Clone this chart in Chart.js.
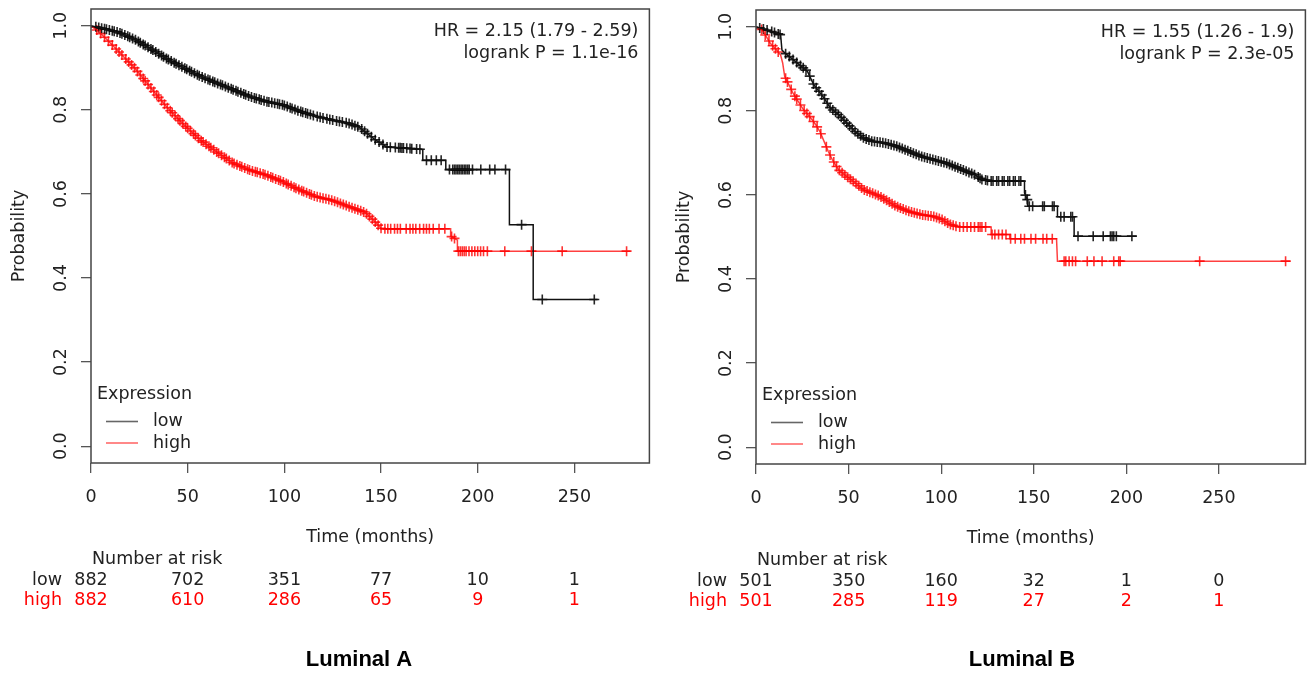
<!DOCTYPE html>
<html>
<head>
<meta charset="utf-8">
<title>Kaplan-Meier curves: Luminal A / Luminal B</title>
<script src="https://cdn.jsdelivr.net/npm/chart.js@4.4.1/dist/chart.umd.min.js"></script>
<style>
  html, body { margin: 0; padding: 0; background: #fff; }
  #wrap { position: relative; width: 1312px; height: 675px; overflow: hidden; }
  canvas { position: absolute; top: 0; }
  #chartA { left: 0; }
  #chartB { left: 656px; }
</style>
</head>
<body>
<div id="wrap">
  <canvas id="chartA" width="656" height="675"></canvas>
  <canvas id="chartB" width="656" height="675"></canvas>
</div>
<script>
// --- values ---
const xTicks = [0, 50, 100, 150, 200, 250];
const yTicks = [0, 0.2, 0.4, 0.6, 0.8, 1.0];

// Luminal A - low expression (black)
const lumALowTime = [0, 5, 14, 22.5, 31, 39.5, 48, 56.6, 65, 73.6, 82, 90.6, 99.2, 107.7, 116.2, 124.7, 133.3, 139, 146.7, 153, 171.6, 171.6, 183.5, 183.5, 216.4, 216.4, 228.7, 228.7, 262];
const lumALowSurv = [1.0, 0.995, 0.985, 0.968, 0.945, 0.921, 0.9, 0.88, 0.864, 0.848, 0.832, 0.82, 0.812, 0.797, 0.785, 0.776, 0.768, 0.758, 0.73, 0.712, 0.706, 0.68, 0.68, 0.658, 0.658, 0.527, 0.527, 0.349, 0.349];
const lumALowCensor = [2.5, 4, 5.5, 7, 8, 9.5, 11, 12, 13.5, 15, 16, 17.5, 19, 20, 21.5, 23, 24.5, 25.5, 27, 28, 29.5, 31, 32, 33.5, 35, 36.5, 37.5, 39, 40, 41.5, 43, 44, 45.5, 47, 48.5, 49.5, 51, 52, 53.5, 55, 56, 57.5, 59, 60.5, 61.5, 63, 64, 65.5, 67, 68, 69.5, 71, 72.5, 73.5, 75, 76, 77.5, 79, 80, 81.5, 83, 84.5, 85.5, 87, 88, 89.5, 91, 92, 93.5, 95, 96.5, 97.5, 99, 100, 101.5, 103, 104, 105.5, 107, 108.5, 109.5, 111, 112, 113.5, 115, 117, 118.5, 120, 122, 123.5, 125, 127, 128.5, 130, 132, 133.5, 135, 136.5, 138, 140, 141.5, 143, 145, 147, 149, 151, 153.1, 154.8, 157.4, 159.1, 159.9, 160.8, 161.6, 163.3, 165, 165.9, 168.4, 170.1, 173.5, 176, 178.6, 181.1, 185.4, 187.1, 188, 188.8, 189.7, 190.5, 191.4, 192.2, 193.1, 193.9, 194.8, 195.6, 197.3, 201.6, 206.2, 208.9, 214.4, 222.7, 233.4, 260.3];

// Luminal A - high expression (red)
const lumAHighTime = [0, 3, 7.2, 14, 22.5, 31, 39.5, 48, 56.6, 65, 73.6, 82, 90.6, 99.2, 107.7, 116.2, 124.7, 133.3, 141.8, 146, 150.3, 186, 186, 189.5, 189.5, 279];
const lumAHighSurv = [1.0, 0.99, 0.972, 0.94, 0.9, 0.852, 0.805, 0.765, 0.728, 0.7, 0.673, 0.657, 0.645, 0.629, 0.61, 0.594, 0.585, 0.57, 0.556, 0.538, 0.517, 0.517, 0.5, 0.49, 0.464, 0.464];
const lumAHighCensor = [3, 5, 7, 9, 11, 13, 14.5, 16, 18, 19.5, 21, 22.5, 24, 25.5, 27, 28, 29.5, 31, 32.5, 34, 35, 36.5, 38, 39.5, 41, 42, 43.5, 45, 46, 47.5, 49, 50, 51.5, 53, 54, 55.5, 57, 58, 59.5, 61, 62, 63.5, 65, 66, 67.5, 69, 70, 71.5, 73, 74, 75.5, 77, 78, 79.5, 81, 82, 83.5, 85, 86, 87.5, 89, 90, 91.5, 93, 94, 95.5, 97, 98, 99.5, 101, 102, 103.5, 105, 106, 107.5, 109, 110, 111.5, 113, 114, 115.5, 117, 118.5, 120, 121.5, 123, 124.5, 126, 127.5, 129, 130.5, 132, 133.5, 135, 136.5, 138, 139.5, 141, 142.5, 144, 145.5, 147, 148.5, 150, 152, 153.5, 155, 157, 158.5, 160, 163, 165, 166.5, 168, 170, 172, 173.5, 175, 177, 180, 183, 186.5, 188, 190, 191, 192, 193, 194, 195.5, 197, 198.5, 200, 201.5, 203, 205, 214, 227.8, 243.7, 277];

// Luminal B - low expression (black)
const lumBLowTime = [0, 7.7, 13.3, 14, 15.5, 20, 24.5, 27.8, 31.2, 33.4, 36.7, 40.1, 44.6, 49, 53.5, 57.9, 62.4, 69.1, 75.8, 82.5, 89.2, 95.9, 102.6, 107, 111.5, 118.2, 122, 127, 145, 145, 146.5, 146.8, 162.8, 162.8, 171.8, 171.8, 205.5];
const lumBLowSurv = [1.0, 0.99, 0.981, 0.945, 0.938, 0.922, 0.906, 0.894, 0.862, 0.85, 0.831, 0.807, 0.791, 0.771, 0.751, 0.736, 0.728, 0.724, 0.716, 0.704, 0.692, 0.684, 0.676, 0.668, 0.66, 0.648, 0.637, 0.633, 0.633, 0.605, 0.589, 0.573, 0.573, 0.548, 0.548, 0.502, 0.502];
const lumBLowCensor = [2, 4, 6, 8.5, 10, 12, 13, 16, 18, 20, 22, 24, 25.5, 27, 29, 31, 32.5, 34, 35.5, 37, 38.5, 40, 41.5, 43, 44.5, 46, 47.5, 49, 50.5, 52, 53.5, 55, 56.5, 58, 59.5, 61, 62.5, 64, 65.5, 67, 68.5, 70, 71.5, 73, 74.5, 76, 77.5, 79, 80.5, 82, 83.5, 85, 86.5, 88, 89.5, 91, 92.5, 94, 95.5, 97, 98.5, 100, 101.5, 103, 104.5, 106, 107.5, 109, 110.5, 112, 113.5, 115, 116.5, 118, 120, 121, 122, 124, 125, 127, 128, 130, 131, 133, 134, 136, 137, 139, 140, 142, 143, 145.5, 146.5, 147.6, 149.4, 154.8, 155.7, 160.1, 161, 164.6, 166.4, 170, 170.9, 173.9, 182.1, 187.5, 191.4, 192.3, 193.2, 194.6, 203];

// Luminal B - high expression (red)
const lumBHighTime = [0, 3.3, 5.5, 7.7, 11.1, 13.3, 14.4, 15.5, 17.8, 20, 23.3, 25.6, 28.9, 32.3, 34.5, 36.7, 39, 41.2, 44.6, 49, 53.5, 57.9, 62.4, 66.9, 71.3, 75.8, 82.5, 89.2, 95.9, 100.3, 104.8, 109.3, 127, 127, 137, 137, 162.3, 162.8, 288.7];
const lumBHighSurv = [1.0, 0.993, 0.977, 0.961, 0.945, 0.933, 0.914, 0.882, 0.862, 0.842, 0.819, 0.803, 0.787, 0.767, 0.751, 0.728, 0.704, 0.684, 0.66, 0.644, 0.629, 0.613, 0.605, 0.597, 0.585, 0.573, 0.561, 0.553, 0.549, 0.542, 0.53, 0.524, 0.524, 0.506, 0.506, 0.496, 0.496, 0.4425, 0.4425];
const lumBHighCensor = [3, 5, 7, 9, 10.5, 12, 16, 17, 19, 21, 22, 24, 26, 27.5, 29, 31, 33, 35, 38, 40, 42, 43.5, 45, 46.5, 48, 49.5, 51, 52.5, 54, 55.5, 57, 58.5, 60, 61.5, 63, 64.5, 66, 67.5, 69, 70.5, 72, 73.5, 75, 76.5, 78, 79.5, 81, 82.5, 84, 85.5, 87, 88.5, 90, 91.5, 93, 94.5, 96, 97.5, 99, 100.5, 102, 103.5, 105, 106.5, 108, 110, 112, 114, 116, 118, 120, 121, 122, 124, 127.5, 129, 131, 133, 135, 137.5, 140, 143, 145, 148.5, 151, 155, 157, 160, 166.4, 167.3, 169.1, 170.9, 172.6, 178.9, 182.5, 186.9, 193.2, 195.9, 196.7, 239.6, 286];

// Number at risk at the x ticks
const lumARiskLow = [882, 702, 351, 77, 10, 1];
const lumARiskHigh = [882, 610, 286, 65, 9, 1];
const lumBRiskLow = [501, 350, 160, 32, 1, 0];
const lumBRiskHigh = [501, 285, 119, 27, 2, 1];

const FONT = '"DejaVu Sans", "Liberation Sans", sans-serif';
const TXT = '#222';
const RED = '#ff0000';
const LINE_RED = 'rgba(255, 0, 0, 0.75)';

// curve vertices -> {x, y}
function curvePoints(times, surv) {
    return times.map((t, i) => ({ x: t, y: surv[i] }));
}

// a censor tick sits on the drawn curve at its time
function survAt(times, surv, t) {
    for (let i = 0; i < times.length - 1; i++) {
        if (t >= times[i] && t <= times[i + 1] && times[i + 1] > times[i]) {
            const f = (t - times[i]) / (times[i + 1] - times[i]);
            return surv[i] + f * (surv[i + 1] - surv[i]);
        }
    }
    return surv[surv.length - 1];
}

function censorPoints(times, surv, censor) {
    return censor.map(t => ({ x: t, y: survAt(times, surv, t) }));
}

const kmText = {
    id: 'kmText',
    afterDraw(chart, args, o) {
        const ctx = chart.ctx;
        const a = chart.chartArea;
        const xs = chart.scales.x;
        const ys = chart.scales.y;
        ctx.save();

        // frame
        ctx.strokeStyle = '#444';
        ctx.lineWidth = 1.5;
        ctx.strokeRect(a.left, a.top, a.right - a.left, a.bottom - a.top);

        ctx.font = `17.5px ${FONT}`;
        ctx.fillStyle = TXT;
        ctx.textBaseline = 'middle';

        // y tick labels, parallel to the axis
        yTicks.forEach(v => {
            ctx.save();
            ctx.translate(a.left - 30, ys.getPixelForValue(v));
            ctx.rotate(-Math.PI / 2);
            ctx.textAlign = 'center';
            ctx.fillText(v.toFixed(1), 0, 0);
            ctx.restore();
        });

        // axis titles
        ctx.save();
        ctx.translate(a.left - 72, (a.top + a.bottom) / 2);
        ctx.rotate(-Math.PI / 2);
        ctx.textAlign = 'center';
        ctx.fillText('Probability', 0, 0);
        ctx.restore();
        ctx.textAlign = 'center';
        ctx.fillText('Time (months)', (a.left + a.right) / 2, a.bottom + 74);

        // HR / logrank
        ctx.textAlign = 'right';
        ctx.fillText(o.hr, a.right - 11, a.top + 22);
        ctx.fillText(o.logrank, a.right - 11, a.top + 44);

        // legend
        ctx.textAlign = 'left';
        ctx.fillText('Expression', a.left + 6, a.bottom - 69);
        ctx.lineWidth = 1.6;
        ctx.strokeStyle = '#666';
        ctx.beginPath();
        ctx.moveTo(a.left + 15, a.bottom - 41.5);
        ctx.lineTo(a.left + 47, a.bottom - 41.5);
        ctx.stroke();
        ctx.strokeStyle = '#ff6a6a';
        ctx.beginPath();
        ctx.moveTo(a.left + 15, a.bottom - 20);
        ctx.lineTo(a.left + 47, a.bottom - 20);
        ctx.stroke();
        ctx.fillText('low', a.left + 62, a.bottom - 42);
        ctx.fillText('high', a.left + 62, a.bottom - 20);

        // number at risk
        ctx.fillText('Number at risk', a.left + 1, a.bottom + 96);
        ctx.textAlign = 'right';
        ctx.fillText('low', a.left - 29, a.bottom + 117);
        ctx.fillStyle = RED;
        ctx.fillText('high', a.left - 29, a.bottom + 137);
        ctx.textAlign = 'center';
        xTicks.forEach((t, i) => {
            const px = xs.getPixelForValue(t);
            ctx.fillStyle = TXT;
            ctx.fillText(String(o.riskLow[i]), px, a.bottom + 117);
            ctx.fillStyle = RED;
            ctx.fillText(String(o.riskHigh[i]), px, a.bottom + 137);
        });

        // panel title
        ctx.fillStyle = '#000';
        ctx.font = `bold 22px "Liberation Sans", Arial, sans-serif`;
        ctx.fillText(o.title, o.titleX, 660);

        ctx.restore();
    }
};

function makePanel(canvasId, p) {
    const W = 656, H = 675;
    return new Chart(document.getElementById(canvasId), {
        type: 'scatter',
        data: {
            datasets: [
                {
                    label: 'low',
                    data: curvePoints(p.lowTime, p.lowSurv),
                    showLine: true, borderColor: '#111', borderWidth: 1.5,
                    pointRadius: 0, tension: 0
                },
                {
                    label: 'high',
                    data: curvePoints(p.highTime, p.highSurv),
                    showLine: true, borderColor: LINE_RED, borderWidth: 1.5,
                    pointRadius: 0, tension: 0
                },
                {
                    label: 'low censored',
                    data: censorPoints(p.lowTime, p.lowSurv, p.lowCensor),
                    pointStyle: 'cross', pointRadius: 5, borderWidth: 1.6,
                    borderColor: 'rgba(0,0,0,0.85)', backgroundColor: 'rgba(0,0,0,0)'
                },
                {
                    label: 'high censored',
                    data: censorPoints(p.highTime, p.highSurv, p.highCensor),
                    pointStyle: 'cross', pointRadius: 5, borderWidth: 1.6,
                    borderColor: 'rgba(255,0,0,0.8)', backgroundColor: 'rgba(0,0,0,0)'
                }
            ]
        },
        options: {
            responsive: false,
            animation: false,
            events: [],
            layout: { padding: { left: 0, top: p.area.top, right: W - p.area.right, bottom: 0 } },
            plugins: {
                legend: { display: false },
                tooltip: { enabled: false },
                kmText: {
                    hr: p.hr, logrank: p.logrank, title: p.title, titleX: p.titleX,
                    riskLow: p.riskLow, riskHigh: p.riskHigh
                }
            },
            scales: {
                x: {
                    type: 'linear', min: 0, max: p.xMax,
                    afterBuildTicks: s => { s.ticks = xTicks.map(v => ({ value: v })); },
                    afterFit: s => { s.height = H - p.area.bottom; },
                    border: { display: false },
                    grid: { drawOnChartArea: false, drawTicks: true, tickLength: 10, color: '#555', lineWidth: 1.3 },
                    ticks: {
                        color: TXT, padding: 14, maxRotation: 0, autoSkip: false,
                        font: { family: FONT, size: 17.5 },
                        callback: v => String(v)
                    }
                },
                y: {
                    type: 'linear', min: -0.04, max: 1.04,
                    afterBuildTicks: s => { s.ticks = yTicks.map(v => ({ value: v })); },
                    afterFit: s => { s.width = p.area.left; },
                    border: { display: false },
                    grid: { drawOnChartArea: false, drawTicks: true, tickLength: 10, color: '#555', lineWidth: 1.3 },
                    ticks: { display: false }
                }
            }
        },
        plugins: [kmText]
    });
}

makePanel('chartA', {
    area: { left: 91, right: 655, top: 9, bottom: 463 },
    xMax: 288.8,
    lowTime: lumALowTime, lowSurv: lumALowSurv, lowCensor: lumALowCensor,
    highTime: lumAHighTime, highSurv: lumAHighSurv, highCensor: lumAHighCensor,
    riskLow: lumARiskLow, riskHigh: lumARiskHigh,
    hr: 'HR = 2.15 (1.79 - 2.59)', logrank: 'logrank P = 1.1e-16',
    title: 'Luminal A', titleX: 359
});

makePanel('chartB', {
    area: { left: 100, right: 654, top: 10, bottom: 464 },
    xMax: 296.7,
    lowTime: lumBLowTime, lowSurv: lumBLowSurv, lowCensor: lumBLowCensor,
    highTime: lumBHighTime, highSurv: lumBHighSurv, highCensor: lumBHighCensor,
    riskLow: lumBRiskLow, riskHigh: lumBRiskHigh,
    hr: 'HR = 1.55 (1.26 - 1.9)', logrank: 'logrank P = 2.3e-05',
    title: 'Luminal B', titleX: 366
});
</script>
</body>
</html>
